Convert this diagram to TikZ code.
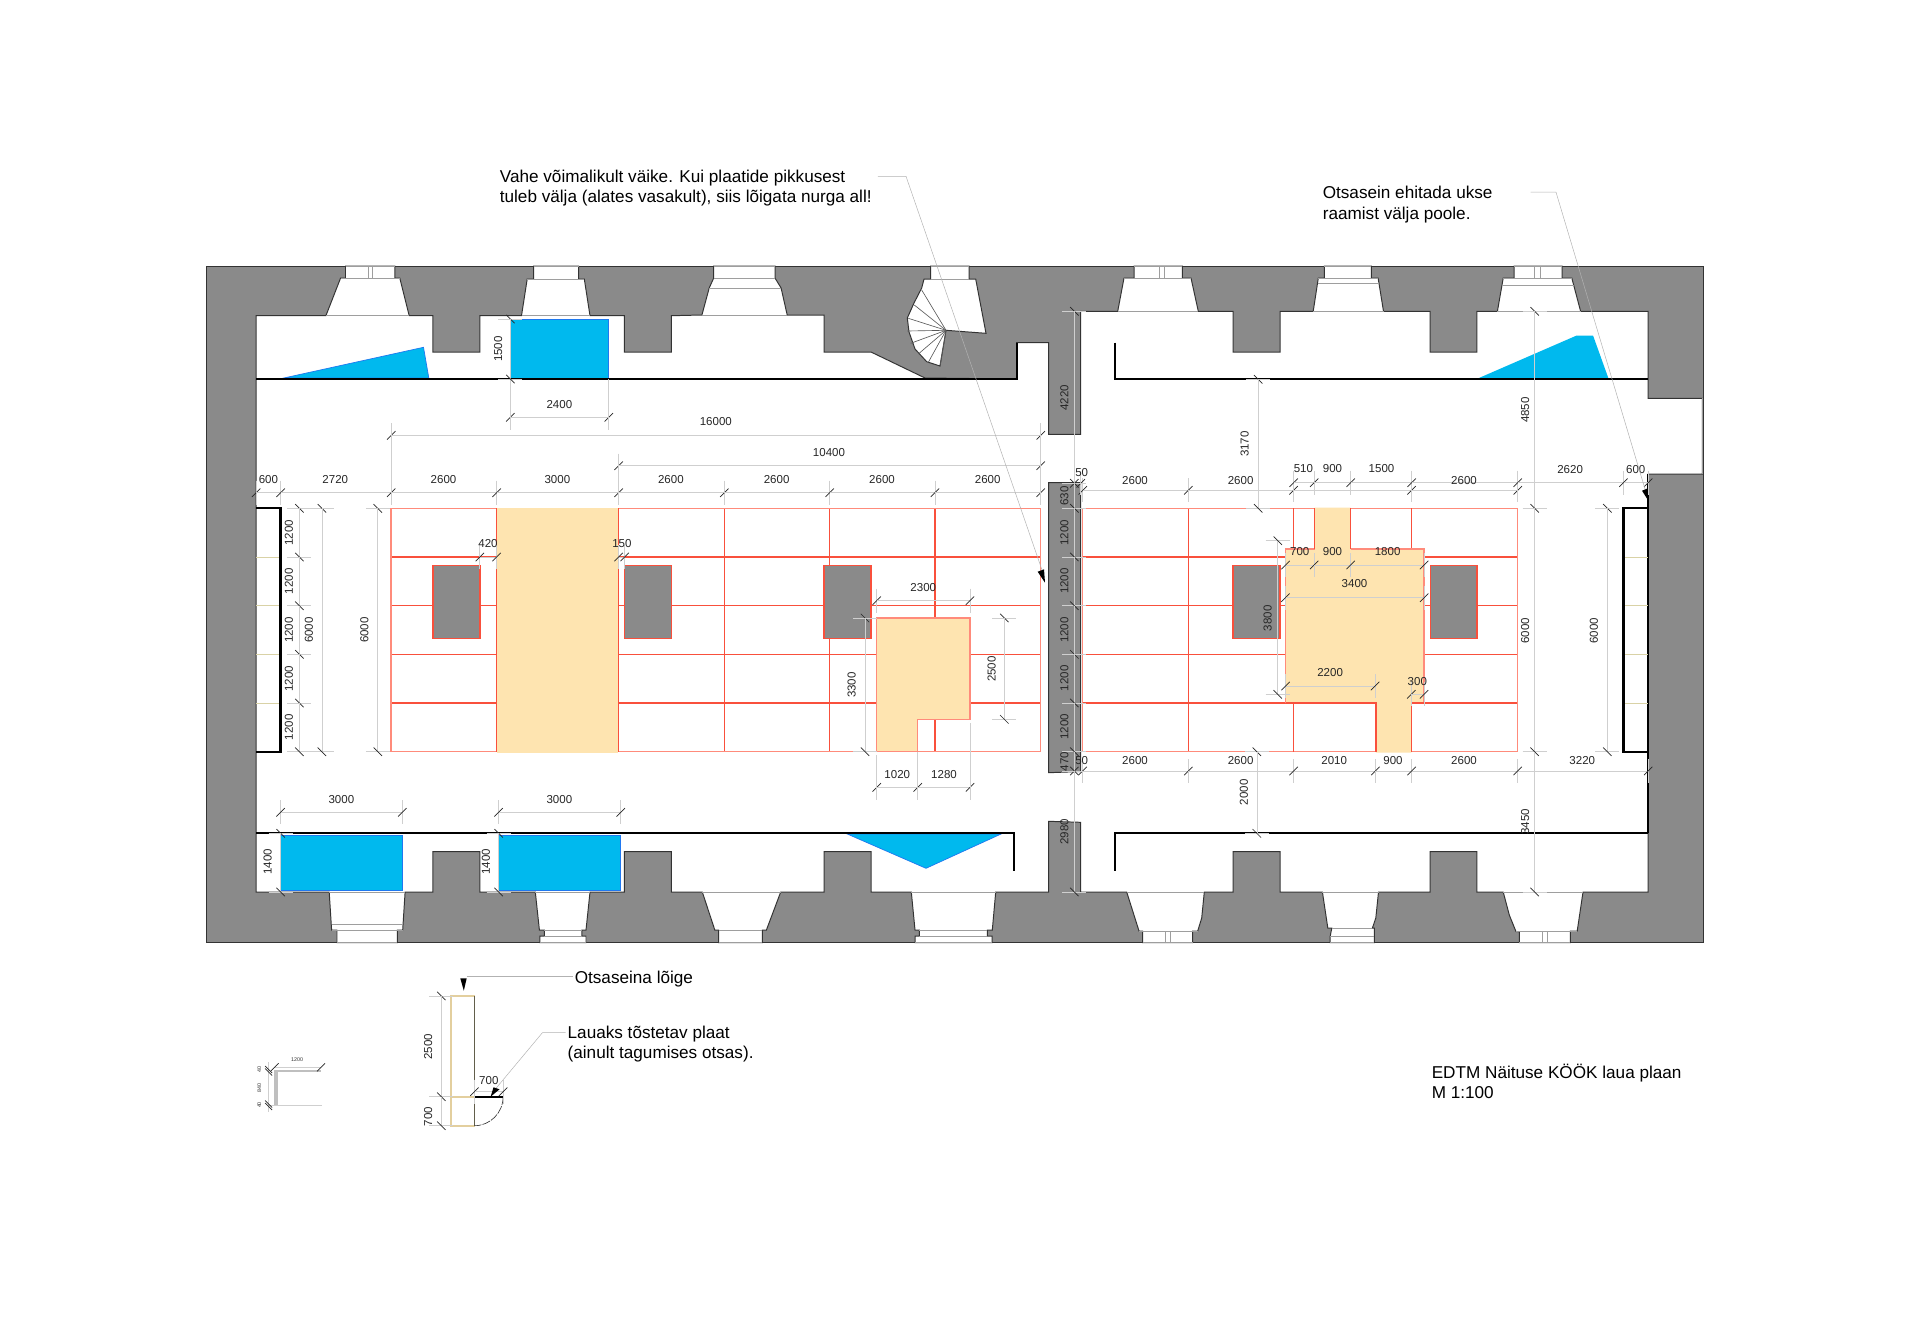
\documentclass[tikz,border=0pt]{standalone}
\usepackage{fontspec}
\setmainfont{Liberation Sans}
\usetikzlibrary{arrows.meta, positioning}

\definecolor{wallgray}{HTML}{8A8A8A}
\definecolor{wallblue}{HTML}{00B9EE}
\definecolor{edgeblue}{HTML}{1F78F0}
\definecolor{tablered}{HTML}{F9503C}
\definecolor{tablepale}{HTML}{FF8B7B}
\definecolor{tableyellow}{HTML}{FEE4B0}
\definecolor{sectiontan}{HTML}{E3CF9E}
\definecolor{dimgray}{HTML}{CFCFCF}
\definecolor{khaki}{HTML}{D9D2A6}

\tikzset{
  wallline/.style={draw=black!80, line width=0.7pt, line join=miter},
  sillline/.style={draw=black!38, line width=0.6pt},
  blackline/.style={draw=black, line width=1.6pt},
  redline/.style={draw=tablered, line width=1pt},
  paleline/.style={draw=tablepale, line width=1.1pt},
  dimline/.style={draw=dimgray, line width=0.45pt},
  dimtick/.style={draw=black!85, line width=0.5pt},
  leaderline/.style={draw=black!30, line width=0.35pt},
  dimlabel/.style={inner sep=0pt, text=black!85, font=\fontsize{8.2}{10}\selectfont},
  dimlabelv/.style={dimlabel, rotate=90},
  tinylabel/.style={inner sep=0pt, text=black!80, font=\fontsize{3.8}{5}\selectfont},
  notelabel/.style={inner sep=0pt, anchor=west, align=left, font=\fontsize{12.2}{14.4}\selectfont}
}

% horizontal and vertical dimension chains
\newcommand{\hmark}[2]{%
  \draw[dimline] (#1,#2) ++(0,-12) -- ++(0,24);
  \draw[dimtick] (#1,#2) ++(-4.2,4.2) -- ++(8.4,-8.4);}
\newcommand{\vmark}[2]{%
  \draw[dimline] (#1,#2) ++(-12,0) -- ++(24,0);
  \draw[dimtick] (#1,#2) ++(-4.2,-4.2) -- ++(8.4,8.4);}
\newcommand{\hdim}[3]{%
  \hmark{#2}{#1}
  \foreach \tx [remember=\tx as \px (initially #2)] in {#3} {
    \draw[dimline] (\px,#1) -- (\tx,#1);
    \hmark{\tx}{#1}
  }}
\newcommand{\vdim}[3]{%
  \vmark{#1}{#2}
  \foreach \ty [remember=\ty as \py (initially #2)] in {#3} {
    \draw[dimline] (#1,\py) -- (#1,\ty);
    \vmark{#1}{\ty}
  }}

\begin{document}
\begin{tikzpicture}[x=0.25mm, y=-0.25mm]
    \useasboundingbox (0,0) rectangle (1920,1332);

    % Draw the outer wall block
    \draw[wallline, fill=wallgray] (206.3,266) rectangle (1703,942.7);

    % Draw the hall, going round with its piers and window openings
    \draw[wallline, fill=white] (256.1,315.7) -- (325.9,315.7) -- (340.6,278) -- (345.5,278) -- (345.5,266)
      -- (394.9,266) -- (394.9,278) -- (399.8,278) -- (409.2,315.7) -- (432.9,315.7) -- (432.9,352)
      -- (479.8,352) -- (479.8,315.7) -- (521.5,315.7) -- (527.2,279) -- (533.7,279) -- (533.7,266)
      -- (578.6,266) -- (578.6,279) -- (584.3,279) -- (590,315.7) -- (624.3,315.7) -- (624.3,352)
      -- (671.3,352) -- (671.3,315.7) -- (701.9,315) -- (709.2,288) -- (713.7,278) -- (713.7,266)
      -- (775,266) -- (775,278) -- (781.1,288) -- (787.2,315) -- (824,315) -- (824,352)
      -- (871,352) -- (925,378) -- (1016.7,379) -- (1016.7,342.7) -- (1048.7,342.7) -- (1048.7,434.3)
      -- (1080.7,434.3) -- (1080.7,311.3) -- (1117.7,311.3) -- (1124,278) -- (1134,278) -- (1134,266)
      -- (1182.3,266) -- (1182.3,278) -- (1191,278) -- (1198.3,311.3) -- (1233.1,311.3) -- (1233.1,352)
      -- (1280.1,352) -- (1280.1,311.3) -- (1313.2,311.3) -- (1318.3,278) -- (1324.4,278) -- (1324.4,266)
      -- (1371.4,266) -- (1371.4,278) -- (1378.1,278) -- (1383.5,311.3) -- (1430.2,311.3) -- (1430.2,352)
      -- (1476.8,352) -- (1476.8,311.3) -- (1497.4,311.3) -- (1503.2,278) -- (1514,278) -- (1514,266)
      -- (1562,266) -- (1562,278) -- (1571.8,278) -- (1580.6,311.3) -- (1648.2,311.3) -- (1648.2,398.3)
      -- (1702.3,398.3) -- (1702.3,474) -- (1648.2,474) -- (1648.2,892)
      -- (1583,892) -- (1577.2,931) -- (1570.4,931) -- (1570.4,942.7) -- (1519.4,942.7) -- (1519.4,931.7)
      -- (1516,931.7) -- (1509.3,915) -- (1503.2,892) -- (1476.8,892) -- (1476.8,851.7) -- (1430.2,851.7)
      -- (1430.2,892) -- (1378.5,892) -- (1375.8,918) -- (1372.4,928) -- (1374.4,928) -- (1374.4,942.7)
      -- (1330.1,942.7) -- (1330.1,936.7) -- (1331.8,928) -- (1327.8,928) -- (1322.4,892) -- (1280.1,892)
      -- (1280.1,851.7) -- (1233.1,851.7) -- (1233.1,892) -- (1204.3,892) -- (1201.7,918) -- (1197.7,931)
      -- (1192.7,931) -- (1192.7,942.7) -- (1142.7,942.7) -- (1142.7,931) -- (1139,931) -- (1126.7,892)
      -- (1080.7,892) -- (1080.7,822.3) -- (1048.7,821.3) -- (1048.7,892) -- (995.7,892) -- (992.3,930)
      -- (987.3,930) -- (987.3,936) -- (992,936) -- (992,942.7) -- (915,942.7) -- (915,936) -- (919.3,936)
      -- (919.3,930) -- (915,930) -- (911.3,892) -- (871,892) -- (871,851.7) -- (824,851.7) -- (824,892)
      -- (780.7,892) -- (766.4,930) -- (762.3,930) -- (762.3,942.7) -- (718.6,942.7) -- (718.6,930)
      -- (714.8,930) -- (702.3,892) -- (671.3,892) -- (671.3,851.7) -- (624.3,851.7) -- (624.3,892)
      -- (590,892) -- (586,930) -- (581.9,930) -- (581.9,936) -- (586,936) -- (586,942.7) -- (539.8,942.7)
      -- (539.8,936) -- (544.3,936) -- (544.3,930) -- (539.4,930) -- (535.3,892) -- (479.8,892)
      -- (479.8,851.7) -- (432.9,851.7) -- (432.9,892) -- (405.1,892) -- (402.7,930) -- (397.4,930)
      -- (397.4,942.7) -- (337,942.7) -- (337,930) -- (331.6,930) -- (329.2,892) -- (256.1,892) -- cycle;

    % Draw the spiral stair
    \draw[wallline, fill=white] (930.7,266) -- (969,266) -- (969,279) -- (975.7,279) -- (986,333.3)
      -- (946,330.3) -- (940,366) -- (926.7,361.7) -- (915,349) -- (909,332) -- (907.3,318) -- (914,303)
      -- (921.7,288) -- (924,279) -- (930.7,279) -- cycle;
    \foreach \sx/\sy in {921.7/290, 914.3/305, 908.3/318.3, 907.3/331, 910.7/343.3, 918.3/354, 928.3/362.3, 940/366} {
        \draw[draw=black!65, line width=0.45pt] (946,330.3) -- (\sx,\sy);
    }

    % Draw the free-standing wall in the doorway
    \draw[wallline, fill=wallgray] (1048.7,482.7) -- (1080.7,482.7) -- (1080.7,771.5) -- (1048.7,772.7) -- cycle;

    % Draw sills and window glass
    \foreach \ya/\xa/\xb in {315.7/325.9/409.2, 315.7/521.5/590, 315/701.9/787.2, 311.3/1117.7/1198.3,
        311.3/1313.2/1383.5, 311.3/1497.4/1580.6, 892/329.2/405.1, 892/535.3/590, 892/702.3/780.7,
        892/911.3/995.7, 892/1126.7/1204.3, 892/1322.4/1378.5, 892/1503.2/1583, 278/340.6/399.8, 279/527.2/584.3,
        278/713.7/775, 288/709.2/781.1, 279/930.7/969, 278/1124/1191, 278/1318.3/1378.1, 283.3/1317.5/1379,
        278/1503.2/1571.8, 285/1502/1573.5, 924.3/331.6/402.7, 930/331.6/402.7, 930.7/544.3/581.9,
        936/544.3/581.9, 930/718.6/762.3, 930/919.3/987.3, 936/919.3/987.3, 931/1139/1197.7, 928/1331.8/1372.4,
        936/1330.1/1374.4, 931.7/1516/1577.2, 266/345.5/394.9, 266/533.7/578.6, 266/713.7/775, 266/930.7/969,
        266/1134/1182.3, 266/1324.4/1371.4, 266/1514/1562, 942.7/337/397.4, 942.7/539.8/586, 942.7/718.6/762.3,
        942.7/915/992, 942.7/1142.7/1192.7, 942.7/1330.1/1374.4, 942.7/1519.4/1570.4} {
        \draw[sillline] (\xa,\ya) -- (\xb,\ya);
    }
    \draw[sillline] (1702.6,398.3) -- (1702.6,474);
    \draw[sillline] (368,266) rectangle (372.5,278);
    \draw[sillline] (1159.5,266) rectangle (1164,278);
    \draw[sillline] (1534.6,266) rectangle (1540,278);
    \draw[sillline] (1165.7,931) rectangle (1170.7,942.7);
    \draw[sillline] (1542.4,931.7) rectangle (1547.5,942.7);

    % Draw the blue areas
    \begin{scope}[fill=wallblue, draw=edgeblue, line width=0.5pt]
        \filldraw (283.9,378) -- (423.5,347.3) -- (428.8,378) -- cycle;
        \filldraw (510.4,319) rectangle (608.8,378);
        \filldraw (280.6,835) rectangle (402.7,890);
        \filldraw (498.6,835) rectangle (620.7,890);
        \filldraw (847.3,834) -- (1001,834) -- (926,868.3) -- cycle;
    \end{scope}
    \fill[wallblue] (1478.9,378) -- (1576.2,335.7) -- (1593.1,335.7) -- (1608.3,378) -- cycle;

    % Draw the red table grid
    \foreach \rx in {496.6, 618.6, 724.3, 829.7, 935, 1188.3} {
        \draw[redline] (\rx,508.3) -- (\rx,751.7);
    }
    \foreach \ry in {557, 605.7, 654.3, 703} {
        \draw[redline] (391.2,\ry) -- (1040.7,\ry);
        \draw[redline] (1082.7,\ry) -- (1517.7,\ry);
    }
    \draw[paleline] (391.2,508.3) rectangle (1040.7,751.7);
    \draw[paleline] (1082.7,508.3) rectangle (1517.7,751.7);
    \draw[redline] (1293.6,508.3) -- (1293.6,751.7);
    \draw[redline] (1411.6,508.3) -- (1411.6,751.7);
    \draw[redline] (1375.8,703) -- (1375.8,751.7);

    % Draw the yellow table parts
    \fill[tableyellow] (497,507.5) rectangle (618.2,752.5);
    \draw[redline] (496.6,508.3) -- (496.6,751.7);
    \draw[redline] (618.6,508.3) -- (618.6,751.7);
    \draw[paleline, fill=tableyellow] (876.7,618) -- (970,618) -- (970,719.3) -- (917.7,719.3)
        -- (917.7,751.7) -- (876.7,751.7) -- cycle;
    \fill[tableyellow] (1314.6,507.5) -- (1350.7,507.5) -- (1350.7,549) -- (1424.1,549) -- (1424.1,703)
        -- (1411.3,703) -- (1411.3,752.5) -- (1375.8,752.5) -- (1375.8,703) -- (1285.5,703) -- (1285.5,549)
        -- (1314.6,549) -- cycle;
    \draw[paleline] (1314.6,549) -- (1285.5,549) -- (1285.5,703);
    \draw[paleline] (1350.7,549) -- (1424.1,549) -- (1424.1,703);
    \draw[redline] (1314.6,508.3) -- (1314.6,549);
    \draw[redline] (1350.7,508.3) -- (1350.7,549);
    \draw[redline] (1285.5,703) -- (1375.8,703) -- (1375.8,751.7);
    \draw[redline] (1424.1,703) -- (1411.3,703) -- (1411.3,751.7);

    % Draw the pillars
    \foreach \xa/\xb in {432.9/479.8, 624.3/671.3, 824/871, 1233.1/1280.1, 1430.2/1476.8} {
        \draw[redline, fill=wallgray] (\xa,565.3) rectangle (\xb,638.3);
    }

    % Draw the heavy black lines
    \draw[blackline] (256.1,379.3) -- (1016.7,379.3) -- (1016.7,342.7);
    \draw[blackline] (1115,342.7) -- (1115,379.3) -- (1648.2,379.3);
    \draw[blackline] (256.1,833.3) -- (1014.3,833.3) -- (1014.3,870.7);
    \draw[blackline] (1115,870.7) -- (1115,833.3) -- (1648.2,833.3);
    \draw[blackline] (1648.2,474) -- (1648.2,833.3);

    % Draw the end panels
    \foreach \ry in {557, 605.7, 654.3, 703} {
        \draw[draw=khaki, line width=0.6pt] (256.1,\ry) -- (280.6,\ry);
        \draw[draw=khaki, line width=0.6pt] (1623.5,\ry) -- (1648.2,\ry);
    }
    \draw[blackline] (256.1,508.3) -- (280.6,508.3) -- (280.6,751.7) -- (256.1,751.7);
    \draw[blackline] (1648.2,508.3) -- (1623.5,508.3) -- (1623.5,751.7) -- (1648.2,751.7);

    % Horizontal dimensions
    \hdim{492.7}{256.1}{280.6,391.2,496.6,618.6,724.3,829.7,935,1040.7}
    \hdim{465.7}{618.6}{1040.7}
    \hdim{435.3}{391.2}{1040.7}
    \hdim{417.3}{510.4}{608.8}
    \hdim{557}{479.8}{496.6}
    \hdim{557}{618.6}{624.7}
    \hdim{812.3}{280.6}{402.3}
    \hdim{812.3}{498.6}{620.7}
    \hdim{600.7}{876.7}{970}
    \hdim{787.3}{876.7}{917.7,970}
    \hdim{490.3}{1082.7}{1188.3,1293.6,1411.6,1517.7}
    \hdim{482.7}{1293.6}{1314.2,1350.7,1411.6,1517.7,1623.5,1648.2}
    \hdim{483.3}{1074.3}{1080.7}
    \hdim{771}{1074.3}{1082.7,1188.3,1293.6,1375.4,1411.6,1517.7,1648.2}
    \hdim{565}{1285.5}{1314.2,1350.7,1424.1}
    \hdim{597.7}{1285.5}{1424.1}
    \hdim{686}{1285.5}{1375.1}
    \hdim{694.3}{1411.3}{1424.1}

    % Long extension lines
    \foreach \ex/\ea/\eb in {391.2/423/505, 618.6/455/505, 1040.7/423/505, 510.4/379/430, 608.8/379/430,
        876.7/755/800, 917.7/752/800, 970/723/800} {
        \draw[dimline] (\ex,\ea) -- (\ex,\eb);
    }

    % Vertical dimensions
    \vdim{299.4}{508.3}{557,605.7,654.3,703,751.7}
    \vdim{321.9}{508.3}{751.7}
    \vdim{377.8}{508.3}{751.7}
    \vdim{510.4}{319}{379}
    \vdim{280.6}{833.3}{892}
    \vdim{498.6}{833.3}{892}
    \vdim{1004.3}{618}{719.3}
    \vdim{865}{618}{751.7}
    \vdim{1074.3}{311.3}{483.3,508.3,557,605.7,654.3,703,751.7,771,892}
    \vdim{1277.7}{540.7}{694.3}
    \vdim{1258.1}{379.3}{508.3}
    \vdim{1256.8}{751.7}{833.3}
    \vdim{1534.6}{311.3}{508.3,751.7,892}
    \vdim{1607.3}{508.3}{751.7}

    % Dimension values, horizontal text
    \foreach \lx/\ly/\lt [count=\i] in {268.4/480/600, 335.3/480/2720, 443.5/480/2600, 557.4/480/3000,
        670.9/480/2600, 776.6/480/2600, 882/480/2600, 987.7/480/2600, 829/452.7/10400, 715.8/422/16000,
        559.4/404.3/2400, 488/544/420, 621.9/544/150, 341.4/800/3000, 559.4/800/3000, 923.3/587.3/2300,
        897.3/774.3/1020, 944/774.3/1280, 1081.7/472.7/50, 1081.7/761/50, 1135/481/2600, 1240.6/481/2600,
        1464/481/2600, 1303.4/469/510, 1332.5/469/900, 1381.5/469/1500, 1570.1/469.7/2620, 1635.7/469.7/600,
        1299.7/551.3/700, 1332.5/551.3/900, 1387.6/551.3/1800, 1354.5/583.3/3400, 1330.1/672.3/2200,
        1417.3/681.7/300, 1135/761/2600, 1240.6/761/2600, 1334.2/761/2010, 1393/761/900, 1464/761/2600,
        1582.3/761/3220, 488.8/1080.7/700} {
        \node[dimlabel] (h\i) at (\lx,\ly) {\lt};
    }

    % Dimension values, vertical text
    \foreach \lx/\ly/\lt [count=\i] in {288.8/532.6/1200, 288.8/581.3/1200, 288.8/630/1200, 288.8/678.6/1200,
        288.8/727.3/1200, 308.8/630/6000, 364.3/630/6000, 498.2/349/1500, 267.6/861.7/1400, 486/861.7/1400,
        991.7/669/2500, 851.7/685/3300, 1064.3/397.7/4220, 1064.3/496/630, 1064.3/532.7/1200, 1064.3/581/1200,
        1064.3/630/1200, 1064.3/678.3/1200, 1064.3/726.7/1200, 1064.3/761.7/470, 1064.3/831.7/2980,
        1267.6/618.3/3800, 1244.6/444/3170, 1244/792.3/2000, 1525.2/410/4850, 1525.2/630.7/6000,
        1525.2/821.7/3450, 1593.8/630.7/6000, 428.1/1046.7/2500, 428.1/1116.7/700} {
        \node[dimlabelv] (v\i) at (\lx,\ly) {\lt};
    }

    % Leader lines with their black marks
    \coordinate (vaheStart) at (877.9,176.3);
    \coordinate (vaheBend) at (906,176.3);
    \coordinate (vaheTip) at (1045,582.7);
    \draw[leaderline] (vaheStart) -- (vaheBend) -- (1042,570);
    \fill (vaheTip) -- (1037.7,571.7) -- (1044,569.3) -- cycle;

    \coordinate (seinStart) at (1530.6,192.2);
    \coordinate (seinBend) at (1556,192.2);
    \coordinate (seinTip) at (1647.9,500);
    \draw[leaderline] (seinStart) -- (seinBend) -- (1645,489);
    \fill (seinTip) -- (1642,490.7) -- (1647.9,488.3) -- cycle;

    % Notes
    \node[notelabel] (noteVahe) at (499.6,188) {Vahe võimalikult väike. Kui plaatide pikkusest\\tuleb välja (alates vasakult), siis lõigata nurga all!};
    \node[notelabel] (noteSein) at (1322.5,204.5) {Otsasein ehitada ukse\\raamist välja poole.};
    \node[notelabel] (noteTitle) at (1431.5,1081.7) {EDTM Näituse KÖÖK laua plaan\\M 1:100};
    \node[notelabel] (noteLoige) at (574.5,979.5) {Otsaseina lõige};
    \node[notelabel] (notePlaat) at (567.4,1044) {Lauaks tõstetav plaat\\(ainult tagumises otsas).};

    % Section of the end wall
    \draw[draw=sectiontan, line width=1.4pt] (474.5,996) -- (450.6,996) -- (450.6,1125.7) -- (474.5,1125.7);
    \draw[draw=sectiontan, line width=1.4pt] (450.6,1096.7) -- (474.5,1096.7);
    \draw[draw=black!55!khaki, line width=1.4pt] (474.5,996) -- (474.5,1125.7);
    \draw[draw=black, line width=1.3pt] (474.5,1096.7) -- (503.1,1096.7);
    \draw[draw=black!80, line width=0.45pt, dash pattern=on 6pt off 0.8pt] (503.1,1096.7) .. controls (503.1,1113) and (490,1125.7) .. (474.5,1125.7);
    \vdim{441.3}{996}{1096.7,1125.7}
    \hdim{1091.7}{474.5}{503.1}
    \coordinate (loigeEnd) at (572.7,976.7);
    \draw[leaderline] (466.7,976.7) -- (loigeEnd);
    \fill (463.8,990.7) -- (460.3,978.3) -- (466.7,978.3) -- cycle;
    \coordinate (plaatEnd) at (565.6,1032.7);
    \draw[leaderline] (496,1088.3) -- (542.4,1032.7) -- (plaatEnd);
    \fill (490.6,1096.7) -- (493.5,1087.3) -- (499.5,1089.3) -- cycle;

    % Small corner detail
    \fill[black!25] (273.6,1071) rectangle (277.5,1105.7);
    \fill[black!25] (274,1070) rectangle (321,1072);
    \draw[dimline] (268.6,1105.7) -- (322,1105.7);
    \draw[dimline] (268.6,1062) -- (268.6,1112);
    \draw[dimline] (274.6,1067.3) -- (321,1067.3);
    \foreach \tx in {274.6, 321} {
        \draw[dimtick] (\tx,1067.3) ++(-4,4) -- ++(8,-8);
    }
    \foreach \ty in {1069.5, 1072, 1104, 1106.5} {
        \draw[dimtick] (268.6,\ty) ++(-3.5,-3.5) -- ++(7,7);
    }
    \node[tinylabel] (tinyWide) at (297.1,1059.3) {1200};
    \node[tinylabel, rotate=90] (tinyTop) at (259.3,1069.3) {40};
    \node[tinylabel, rotate=90] (tinyMid) at (259.3,1088.3) {840};
    \node[tinylabel, rotate=90] (tinyLow) at (259.3,1105) {40};

\end{tikzpicture}
\end{document}
